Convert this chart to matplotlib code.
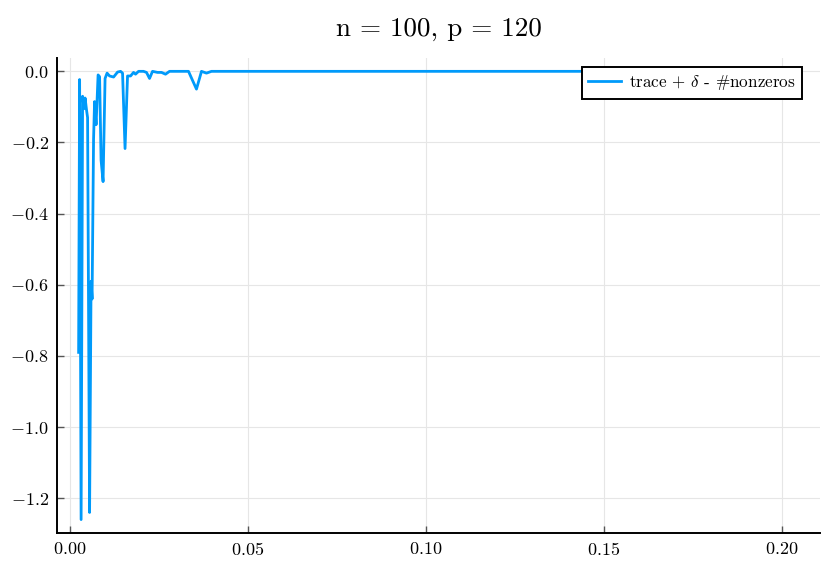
import matplotlib
matplotlib.use("Agg")
import matplotlib.pyplot as plt
from matplotlib.ticker import FuncFormatter

# step size along the path and the value of trace + delta - #nonzeros
steps = [0.00253, 0.00281, 0.00323, 0.00365, 0.00407, 0.00435, 0.00477, 0.00505,
         0.00561, 0.00603, 0.00631, 0.00673, 0.00701, 0.00744, 0.00800, 0.00842,
         0.00884, 0.00940, 0.00996, 0.01052, 0.01122, 0.01235, 0.01347, 0.01431,
         0.01487, 0.01557, 0.01627, 0.01712, 0.01796, 0.01852, 0.01936, 0.02076,
         0.02160, 0.02245, 0.02329, 0.02469, 0.02581, 0.02694, 0.02806, 0.03339,
         0.03563, 0.03704, 0.03844, 0.03984, 0.04500, 0.10000, 0.15000, 0.20470]
values = [-0.79, -0.023, -1.26, -0.07, -0.105, -0.075, -0.11, -0.13,
          -1.24, -0.59, -0.64, -0.19, -0.085, -0.15, -0.01, -0.015,
          -0.25, -0.31, -0.02, -0.005, -0.013, -0.016, -0.002, 0.0,
          -0.005, -0.217, -0.013, -0.013, -0.003, -0.008, 0.0, 0.0,
          -0.003, -0.02, 0.0, -0.003, -0.003, -0.008, 0.0, 0.0,
          -0.05, 0.0, -0.005, 0.0, 0.0, 0.0, 0.0, 0.0]

xticks = [0.00, 0.05, 0.10, 0.15, 0.20]
yticks = [0.0, -0.2, -0.4, -0.6, -0.8, -1.0, -1.2]

plt.rcParams['font.family'] = 'serif'
plt.rcParams['font.serif'] = ['cmr10']
plt.rcParams['mathtext.fontset'] = 'cm'
plt.rcParams['axes.formatter.use_mathtext'] = True

fig = plt.figure(figsize=(8.3, 5.79), dpi=100)
ax = fig.add_axes([0.0687, 0.0794, 0.9193, 0.8206])

ax.plot(steps, values, color='#009AFA', linewidth=2.0,
        label=r'trace + $\delta$ - #nonzeros')
ax.margins(x=0.03, y=0.03)

ax.set_xticks(xticks)
ax.set_yticks(yticks)
ax.xaxis.set_major_formatter(FuncFormatter(lambda v, p: f'${v:.2f}$'))
ax.yaxis.set_major_formatter(FuncFormatter(lambda v, p: f'${v:.1f}$'))
ax.tick_params(direction='in', length=5, width=1, color='#555555',
               labelsize=13, pad=6)
ax.grid(True, color='#E6E6E6', linewidth=0.8)
ax.set_axisbelow(True)

for side in ['top', 'right']:
    ax.spines[side].set_visible(False)
for side in ['left', 'bottom']:
    ax.spines[side].set_linewidth(1.4)

ax.set_title('n = 100, p = 120', fontsize=19.5, pad=16)

leg = ax.legend(loc='upper right', bbox_to_anchor=(0.976, 0.981),
                borderaxespad=0, fontsize=12.3, fancybox=False,
                edgecolor='black', framealpha=1.0, handlelength=1.9,
                handletextpad=0.45, borderpad=0.38)
leg.get_frame().set_linewidth(1.4)

fig.savefig('out.png', dpi=100)
plt.close(fig)
